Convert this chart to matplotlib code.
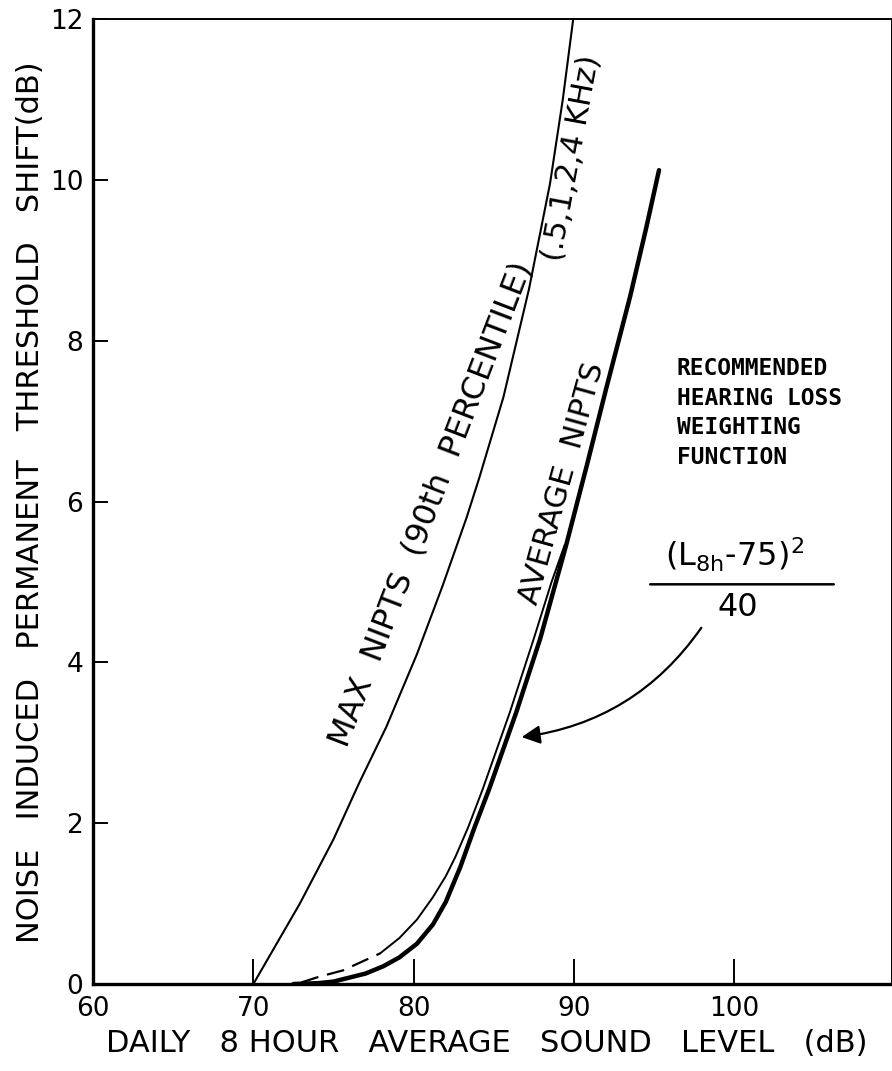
import matplotlib
matplotlib.use("Agg")
import matplotlib.pyplot as plt

plt.rcParams['font.family'] = ['DejaVu Sans']
plt.rcParams['mathtext.default'] = 'regular'

########################################
# values

# MAX NIPTS (90th percentile), thin line
max_x = [70.0, 72.9, 75.0, 76.6, 78.3, 80.2, 81.8, 83.3, 84.1, 85.6, 87.2, 88.5, 89.3, 89.95]
max_y = [0.0, 1.0, 1.8, 2.5, 3.2, 4.1, 4.95, 5.8, 6.3, 7.3, 8.65, 9.95, 11.0, 12.0]

# heavy curve (L8h-75)^2/40
heavy_x = [72.5, 74.0, 75.0, 77.0, 78.1, 79.1, 80.2, 81.2, 82.0, 82.9, 83.8, 84.7, 86.4,
           87.9, 89.5, 90.8, 92.0, 93.5, 94.5, 95.3]
heavy_y = [0.0, 0.01, 0.03, 0.13, 0.22, 0.33, 0.5, 0.74, 1.02, 1.45, 1.95, 2.42, 3.38,
           4.3, 5.45, 6.45, 7.4, 8.55, 9.4, 10.12]

# average NIPTS, thin line next to the heavy one
avg_x = [77.9, 79.1, 80.2, 81.2, 82.0, 82.6, 83.4, 84.3, 86.0, 87.5, 88.6, 89.4]
avg_y = [0.38, 0.57, 0.8, 1.08, 1.34, 1.58, 1.95, 2.42, 3.38, 4.3, 5.0, 5.45]

# dashed low end of the average NIPTS curve
dash_x = [73.0, 74.1, 75.6, 76.8, 77.9]
dash_y = [0.02, 0.09, 0.17, 0.28, 0.38]

xticks = [60, 70, 80, 90, 100]
yticks = [0, 2, 4, 6, 8, 10, 12]

########################################

fig = plt.figure(figsize=(8.92, 10.71), dpi=100)
ax = fig.add_axes([93 / 892, 1 - 984 / 1071, 798.5 / 892, 965 / 1071])

ax.plot(max_x, max_y, color='black', lw=1.5, solid_capstyle='round')
ax.plot(heavy_x, heavy_y, color='black', lw=3.2, solid_capstyle='round')
ax.plot(avg_x, avg_y, color='black', lw=1.4)
ax.plot(dash_x, dash_y, color='black', lw=1.6, dashes=(8, 4))

ax.set_xlim(60, 109.8)
ax.set_ylim(0, 12)
ax.set_xticks(xticks)
ax.set_yticks(yticks)
ax.set_xticklabels([str(t) for t in xticks], fontsize=19)
ax.set_yticklabels([str(t) for t in yticks], fontsize=19)
ax.tick_params(axis='x', direction='in', length=18, width=1.4, pad=9)
ax.tick_params(axis='y', direction='in', length=11, width=1.4, pad=7)

ax.spines['left'].set_linewidth(2.4)
ax.spines['bottom'].set_linewidth(2.4)
ax.spines['top'].set_linewidth(1.4)
ax.spines['right'].set_linewidth(1.4)

# axis titles
fig.text(0.546, 0.026, 'DAILY   8 HOUR   AVERAGE   SOUND   LEVEL   (dB)',
         ha='center', va='center', fontsize=22)
fig.text(0.034, 0.531, 'NOISE   INDUCED   PERMANENT   THRESHOLD   SHIFT(dB)',
         ha='center', va='center', rotation=90, fontsize=22)

# curve labels
ax.text(81.1, 5.96, 'MAX  NIPTS  (90th  PERCENTILE)', rotation=69,
        rotation_mode='anchor', ha='center', va='center', fontsize=23)
ax.text(89.85, 10.27, '(.5,1,2,4 KHz)', rotation=79.5,
        rotation_mode='anchor', ha='center', va='center', fontsize=22)
ax.text(89.26, 6.23, 'AVERAGE  NIPTS', rotation=74.5,
        rotation_mode='anchor', ha='center', va='center', fontsize=22)

ax.text(96.4, 7.8, 'RECOMMENDED\nHEARING LOSS\nWEIGHTING\nFUNCTION',
        family='DejaVu Sans Mono', fontweight='bold', fontsize=16.5,
        ha='left', va='top', linespacing=1.38)

# formula
ax.text(100.0, 5.33, '$(L_{8h}$-75$)^2$', ha='center', va='center', fontsize=23)
ax.annotate('', xy=(106.2, 4.97), xytext=(94.75, 4.97),
            arrowprops=dict(arrowstyle='-', lw=1.8, color='black',
                            shrinkA=0, shrinkB=0))
ax.text(100.2, 4.68, '40', ha='center', va='center', fontsize=23)

ax.annotate('', xy=(86.73, 3.07), xytext=(97.94, 4.43),
            arrowprops=dict(arrowstyle='-|>', connectionstyle='arc3,rad=-0.22',
                            lw=1.6, color='black', mutation_scale=28,
                            shrinkA=0, shrinkB=0))

fig.savefig('out.png', dpi=100)
